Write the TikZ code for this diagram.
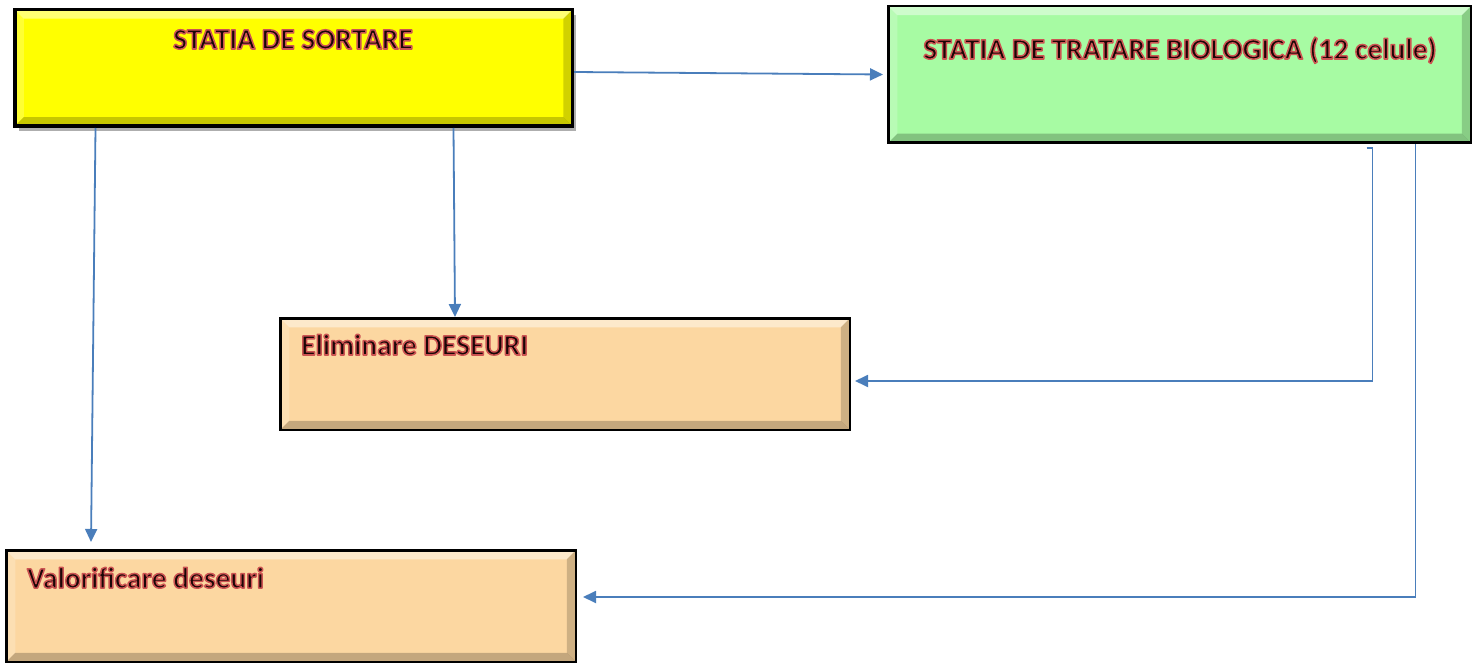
\documentclass[tikz,border=0pt]{standalone}
\usepackage{fontspec}
\setmainfont{Carlito}
\usetikzlibrary{arrows.meta,shadows}
\definecolor{arrowblue}{HTML}{4A7EBB}
\definecolor{sortyellow}{HTML}{FFFF00}
\definecolor{biogreen}{HTML}{A7FBA3}
\definecolor{peach}{HTML}{FCD7A1}
\definecolor{txtdark}{HTML}{1A0606}
\newcommand{\lbl}[1]{\textcolor{txtdark}{\special{pdf:literal direct 0.80 0.33 0.32 RG 1.5 w 1 j 2 Tr}#1\special{pdf:literal direct 0 Tr}}}
\tikzset{
  bevel/.style={path picture={
    \fill[white,opacity=0.45] (path picture bounding box.north west) -- (path picture bounding box.north east)
      -- ([shift={(-9pt,-9pt)}]path picture bounding box.north east) -- ([shift={(9pt,-9pt)}]path picture bounding box.north west) -- cycle;
    \fill[white,opacity=0.2] (path picture bounding box.north west) -- ([shift={(9pt,-9pt)}]path picture bounding box.north west)
      -- ([shift={(9pt,9pt)}]path picture bounding box.south west) -- (path picture bounding box.south west) -- cycle;
    \fill[black,opacity=0.18] (path picture bounding box.north east) -- ([shift={(-9pt,-9pt)}]path picture bounding box.north east)
      -- ([shift={(-9pt,9pt)}]path picture bounding box.south east) -- (path picture bounding box.south east) -- cycle;
    \fill[black,opacity=0.22] (path picture bounding box.south west) -- ([shift={(9pt,9pt)}]path picture bounding box.south west)
      -- ([shift={(-9pt,9pt)}]path picture bounding box.south east) -- (path picture bounding box.south east) -- cycle;
  }},
  box/.style={draw=black, rectangle, inner sep=0pt, bevel},
  lbltext/.style={inner sep=0pt, font=\fontsize{29.5}{33}\selectfont\bfseries},
  arr/.style={draw=arrowblue, line width=1.8pt, -{Triangle[length=13pt,width=12pt]}}
}
\begin{document}
\begin{tikzpicture}[x=1pt,y=-1pt]
\useasboundingbox (0,0) rectangle (1481,663);
% boxes
\node[box, fill=sortyellow, line width=3.5pt, minimum width=557.5pt, minimum height=116.5pt,
      drop shadow={shadow xshift=4pt, shadow yshift=-5pt, opacity=0.45, fill=black!70}] (sort) at (293.5,68) {};
\node[box, fill=biogreen, line width=2.5pt, minimum width=582.5pt, minimum height=136.5pt] (bio) at (1179.5,74.5) {};
\node[box, fill=peach, line width=2.5pt, minimum width=569.5pt, minimum height=111.5pt] (elim) at (565,374) {};
\node[box, fill=peach, line width=2.5pt, minimum width=569.5pt, minimum height=111.5pt] (val) at (291,606) {};
% labels
\node[lbltext, anchor=base] (sortlbl) at (293,49) {\lbl{STATIA DE SORTARE}};
\node[lbltext, anchor=base] (biolbl) at (1180,59) {\lbl{STATIA DE TRATARE BIOLOGICA (12 celule)}};
\node[lbltext, anchor=base west] (elimlbl) at (301,355) {\lbl{Eliminare DESEURI}};
\node[lbltext, anchor=base west] (vallbl) at (27,588) {\lbl{Valorificare deseuri}};
% connectors
\draw[arr] ([yshift=-4pt]sort.east) -- ([xshift=-4pt]bio.west);
\draw[arr] ([xshift=160pt]sort.south) -- ([xshift=-110pt]elim.north);
\draw[arr] ([xshift=-198pt]sort.south) -- ([xshift=-200pt,yshift=7pt]val.north);
\draw[arr] ([xshift=187pt,yshift=-4pt]bio.south) -- ++(6pt,0pt) |- ([xshift=4pt,yshift=-7pt]elim.east);
\draw[arr] ([xshift=236pt]bio.south) |- ([xshift=6pt,yshift=9pt]val.east);
\end{tikzpicture}
\end{document}
